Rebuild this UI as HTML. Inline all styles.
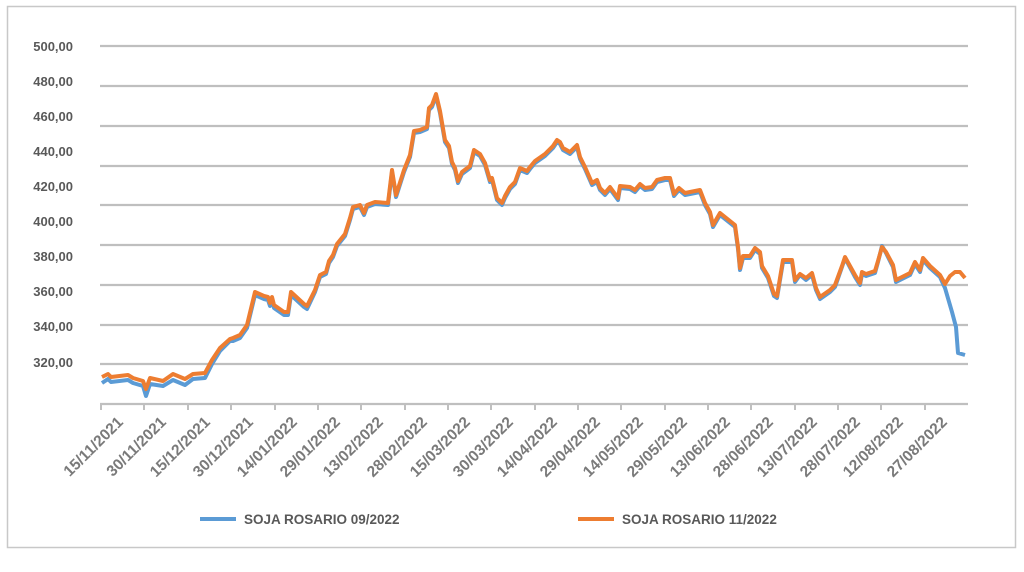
<!DOCTYPE html>
<html><head><meta charset="utf-8"><style>
html,body{margin:0;padding:0;background:#fff;}
svg{display:block;font-family:"Liberation Sans",sans-serif;font-weight:bold;fill:#595959;}
</style></head><body>
<svg width="1024" height="572" viewBox="0 0 1024 572">
<rect x="7.5" y="6.5" width="1008" height="541" fill="#fff" stroke="#c8c8c8" stroke-width="1.5"/>
<g stroke="#bfbfbf" stroke-width="2.2">
<line x1="100" x2="968" y1="46" y2="46"/><line x1="100" x2="968" y1="86" y2="86"/>
<line x1="100" x2="968" y1="126" y2="126"/><line x1="100" x2="968" y1="166" y2="166"/>
<line x1="100" x2="968" y1="205" y2="205"/><line x1="100" x2="968" y1="245" y2="245"/>
<line x1="100" x2="968" y1="285" y2="285"/><line x1="100" x2="968" y1="325" y2="325"/>
<line x1="100" x2="968" y1="364" y2="364"/><line x1="100" x2="968" y1="404" y2="404"/>
</g>
<g stroke="#bfbfbf" stroke-width="2">
<line x1="101" x2="101" y1="404" y2="410"/><line x1="144" x2="144" y1="404" y2="410"/><line x1="188" x2="188" y1="404" y2="410"/><line x1="231" x2="231" y1="404" y2="410"/><line x1="275" x2="275" y1="404" y2="410"/><line x1="318" x2="318" y1="404" y2="410"/><line x1="361" x2="361" y1="404" y2="410"/><line x1="405" x2="405" y1="404" y2="410"/><line x1="448" x2="448" y1="404" y2="410"/><line x1="491" x2="491" y1="404" y2="410"/><line x1="535" x2="535" y1="404" y2="410"/><line x1="578" x2="578" y1="404" y2="410"/><line x1="621" x2="621" y1="404" y2="410"/><line x1="665" x2="665" y1="404" y2="410"/><line x1="708" x2="708" y1="404" y2="410"/><line x1="751" x2="751" y1="404" y2="410"/><line x1="795" x2="795" y1="404" y2="410"/><line x1="838" x2="838" y1="404" y2="410"/><line x1="881" x2="881" y1="404" y2="410"/><line x1="925" x2="925" y1="404" y2="410"/>
</g>
<g font-size="13" text-anchor="end">
<text x="73" y="51">500,00</text><text x="73" y="86">480,00</text><text x="73" y="121">460,00</text>
<text x="73" y="156">440,00</text><text x="73" y="191">420,00</text><text x="73" y="226">400,00</text>
<text x="73" y="261">380,00</text><text x="73" y="296">360,00</text><text x="73" y="331">340,00</text>
<text x="73" y="367">320,00</text>
</g>
<g font-size="15.5" text-anchor="end" fill="#7a7a7a">
<text transform="translate(124,423) rotate(-45)">15/11/2021</text>
<text transform="translate(167,423) rotate(-45)">30/11/2021</text>
<text transform="translate(211,423) rotate(-45)">15/12/2021</text>
<text transform="translate(254,423) rotate(-45)">30/12/2021</text>
<text transform="translate(298,423) rotate(-45)">14/01/2022</text>
<text transform="translate(341,423) rotate(-45)">29/01/2022</text>
<text transform="translate(384,423) rotate(-45)">13/02/2022</text>
<text transform="translate(428,423) rotate(-45)">28/02/2022</text>
<text transform="translate(471,423) rotate(-45)">15/03/2022</text>
<text transform="translate(514,423) rotate(-45)">30/03/2022</text>
<text transform="translate(558,423) rotate(-45)">14/04/2022</text>
<text transform="translate(601,423) rotate(-45)">29/04/2022</text>
<text transform="translate(644,423) rotate(-45)">14/05/2022</text>
<text transform="translate(688,423) rotate(-45)">29/05/2022</text>
<text transform="translate(731,423) rotate(-45)">13/06/2022</text>
<text transform="translate(774,423) rotate(-45)">28/06/2022</text>
<text transform="translate(818,423) rotate(-45)">13/07/2022</text>
<text transform="translate(861,423) rotate(-45)">28/07/2022</text>
<text transform="translate(904,423) rotate(-45)">12/08/2022</text>
<text transform="translate(948,423) rotate(-45)">27/08/2022</text>
</g>
<polyline fill="none" stroke="#5b9bd5" stroke-width="4" stroke-linejoin="round" points="102,383 108,379 111,382 128,380 133,383 143,386 146,396 150,384 163,386 173,380 185,385 193,379 205,378 212,364 220,351 230,341 233,341 240,338 247,328 255,295 264,299 268,300 270,306 272,300 274,308 284,315 288,315 291,295 304,307 307,309 315,292 320,277 326,274 329,263 333,257 337,246 345,236 350,220 353,209 360,207 364,215 367,207 375,204 388,205 392,172 396,197 404,172 410,157 414,133 420,132 427,129 429,110 432,107 436,96 440,113 445,142 449,148 452,164 455,170 458,183 462,174 470,168 474,152 480,156 485,165 490,182 492,180 497,200 502,205 505,198 510,189 515,184 520,170 527,173 530,169 535,163 545,156 553,148 557,142 560,144 563,150 570,154 577,147 580,159 585,169 592,185 597,182 600,190 605,195 610,189 618,200 620,188 630,189 635,192 640,186 645,190 652,189 657,182 665,180 670,180 674,196 679,190 685,195 700,192 705,205 710,214 713,227 720,215 735,227 738,249 740,270 743,258 750,258 755,250 760,254 762,268 768,278 774,296 777,298 783,262 792,262 795,282 800,275 806,280 812,275 816,290 820,299 830,292 835,287 842,267 845,258 855,277 860,285 862,274 866,276 875,273 878,262 882,246 886,253 893,267 896,282 910,275 915,264 920,272 923,260 930,268 940,277 945,288 952,312 956,327 958,353 965,355"/>
<polyline fill="none" stroke="#ed7d31" stroke-width="4" stroke-linejoin="round" points="102,377 108,374 111,377 128,375 133,378 143,381 146,389 150,378 163,381 173,374 185,379 193,374 205,373 212,360 220,348 230,339 233,338 240,335 247,325 255,292 264,296 268,297 270,303 272,297 274,305 284,312 288,312 291,292 304,304 307,306 315,290 320,275 326,272 329,261 333,255 337,244 345,234 350,218 353,207 360,205 364,213 367,205 375,202 388,203 392,170 396,195 404,170 410,155 414,131 420,130 427,127 429,108 432,105 436,94 440,111 445,140 449,146 452,162 455,168 458,181 462,172 470,166 474,150 480,154 485,163 490,180 492,178 497,198 502,203 505,196 510,187 515,182 520,168 527,171 530,167 535,161 545,154 553,146 557,140 560,142 563,148 570,152 577,145 580,157 585,167 592,183 597,180 600,188 605,193 610,187 618,198 620,186 630,187 635,190 640,184 645,188 652,187 657,180 665,178 670,178 674,194 679,188 685,193 700,190 705,203 710,212 713,225 720,213 735,225 738,247 740,268 743,256 750,256 755,248 760,252 762,266 768,276 774,294 777,296 783,260 792,260 795,280 800,274 806,278 812,273 816,288 820,297 830,290 835,285 842,266 845,257 855,275 860,283 862,272 866,274 875,271 878,261 882,247 886,252 893,265 896,280 910,273 915,262 920,270 923,258 930,266 940,275 945,284 950,276 955,272 960,272 965,278"/>
<line x1="200" x2="236" y1="519" y2="519" stroke="#5b9bd5" stroke-width="4"/>
<text x="244" y="524" font-size="13.5">SOJA ROSARIO 09/2022</text>
<line x1="578" x2="614" y1="519" y2="519" stroke="#ed7d31" stroke-width="4"/>
<text x="622" y="524" font-size="13.5">SOJA ROSARIO 11/2022</text>
</svg>
</body></html>
